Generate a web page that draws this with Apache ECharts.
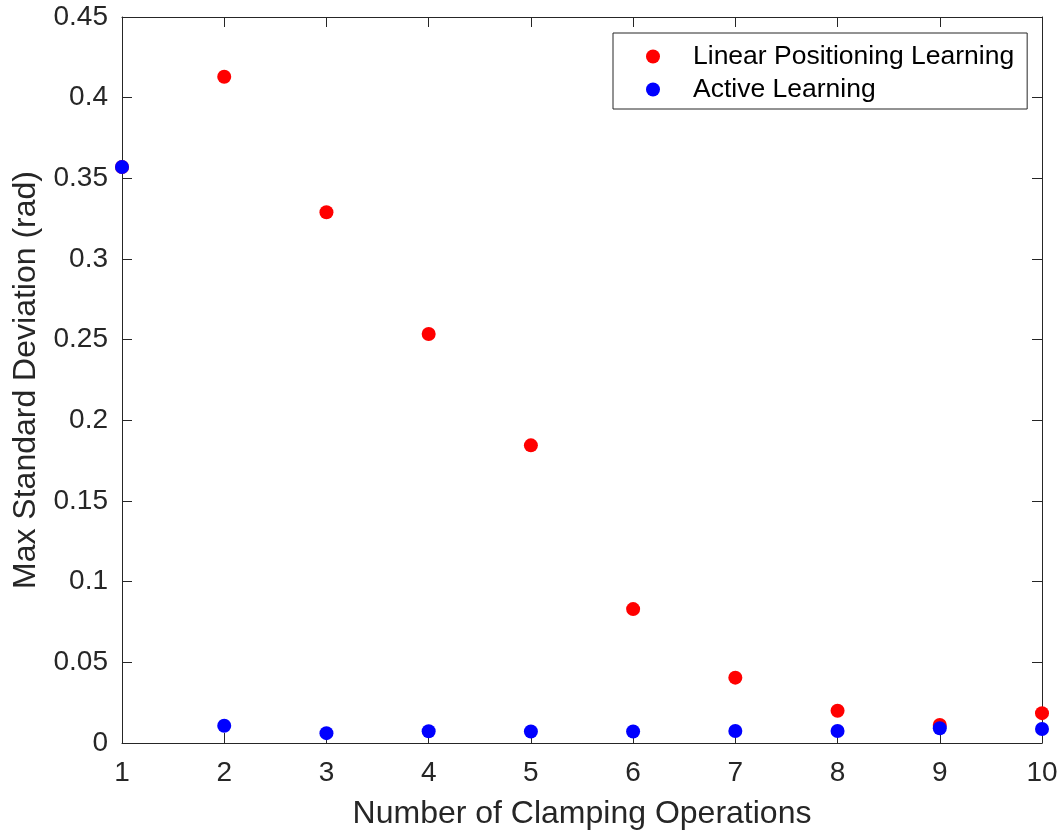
<!DOCTYPE html>
<html>
<head>
<meta charset="utf-8">
<script src="https://cdn.jsdelivr.net/npm/echarts@6/dist/echarts.min.js"></script>
<style>
html,body{margin:0;padding:0;background:#fff;}
#chart{width:1062px;height:833px;}
</style>
</head>
<body>
<div id="chart"></div>
<script>
const operations = [1, 2, 3, 4, 5, 6, 7, 8, 9, 10];
const linearPositioning = [0.357, 0.413, 0.329, 0.2535, 0.1845, 0.083, 0.0405, 0.020, 0.0112, 0.0185];
const activeLearning = [0.357, 0.0107, 0.0061, 0.0073, 0.0071, 0.0071, 0.0074, 0.0074, 0.0091, 0.0087];
const seriesNames = ['Linear Positioning Learning', 'Active Learning'];
const xTitle = 'Number of Clamping Operations';
const yTitle = 'Max Standard Deviation (rad)';

const axisColor = '#262626';
const font = 'Liberation Sans, Arial, Helvetica, sans-serif';

const chart = echarts.init(document.getElementById('chart'), null, {renderer: 'canvas'});

function pairs(ys) { return operations.map((x, i) => [x, ys[i]]); }

const baseTick = {show: true, inside: true, length: 10, lineStyle: {color: axisColor, width: 1}};
const baseLine = {show: true, onZero: false, lineStyle: {color: axisColor, width: 1}};

chart.setOption({
  animation: false,
  backgroundColor: '#ffffff',
  textStyle: {fontFamily: font},
  grid: {left: 122, right: 20, top: 17, bottom: 90, containLabel: false, outerBoundsMode: 'none'},
  legend: {
    orient: 'vertical',
    left: 613,
    top: 33,
    padding: [10, 13, 6, 33],
    itemGap: 6,
    itemWidth: 14,
    itemHeight: 14,
    icon: 'circle',
    backgroundColor: '#ffffff',
    borderColor: axisColor,
    borderWidth: 1,
    borderRadius: 0,
    textStyle: {fontFamily: font, fontSize: 26.5, color: '#000000', padding: [0, 0, 0, 28], lineHeight: 24},
    data: seriesNames
  },
  xAxis: [
    {
      type: 'value', min: 1, max: 10, interval: 1, position: 'bottom',
      name: xTitle, nameLocation: 'middle', nameGap: 55,
      nameTextStyle: {fontFamily: font, fontSize: 32, color: axisColor},
      axisLine: baseLine, axisTick: baseTick,
      axisLabel: {fontFamily: font, fontSize: 28, color: axisColor, margin: 16},
      splitLine: {show: false}
    },
    {
      type: 'value', min: 1, max: 10, interval: 1, position: 'top',
      axisLine: baseLine, axisTick: baseTick,
      axisLabel: {show: false}, splitLine: {show: false}
    }
  ],
  yAxis: [
    {
      type: 'value', min: 0, max: 0.45, interval: 0.05, position: 'left',
      name: yTitle, nameLocation: 'middle', nameGap: 80,
      nameTextStyle: {fontFamily: font, fontSize: 32, color: axisColor},
      axisLine: baseLine, axisTick: baseTick,
      axisLabel: {fontFamily: font, fontSize: 28, color: axisColor, margin: 14},
      splitLine: {show: false}
    },
    {
      type: 'value', min: 0, max: 0.45, interval: 0.05, position: 'right',
      axisLine: baseLine, axisTick: baseTick,
      axisLabel: {show: false}, splitLine: {show: false}
    }
  ],
  series: [
    {
      name: seriesNames[0], type: 'scatter', symbol: 'circle', symbolSize: 14,
      itemStyle: {color: '#ff0000', opacity: 1}, data: pairs(linearPositioning), z: 2
    },
    {
      name: seriesNames[1], type: 'scatter', symbol: 'circle', symbolSize: 14,
      itemStyle: {color: '#0000ff', opacity: 1}, data: pairs(activeLearning), z: 3
    }
  ]
});
</script>
</body>
</html>
